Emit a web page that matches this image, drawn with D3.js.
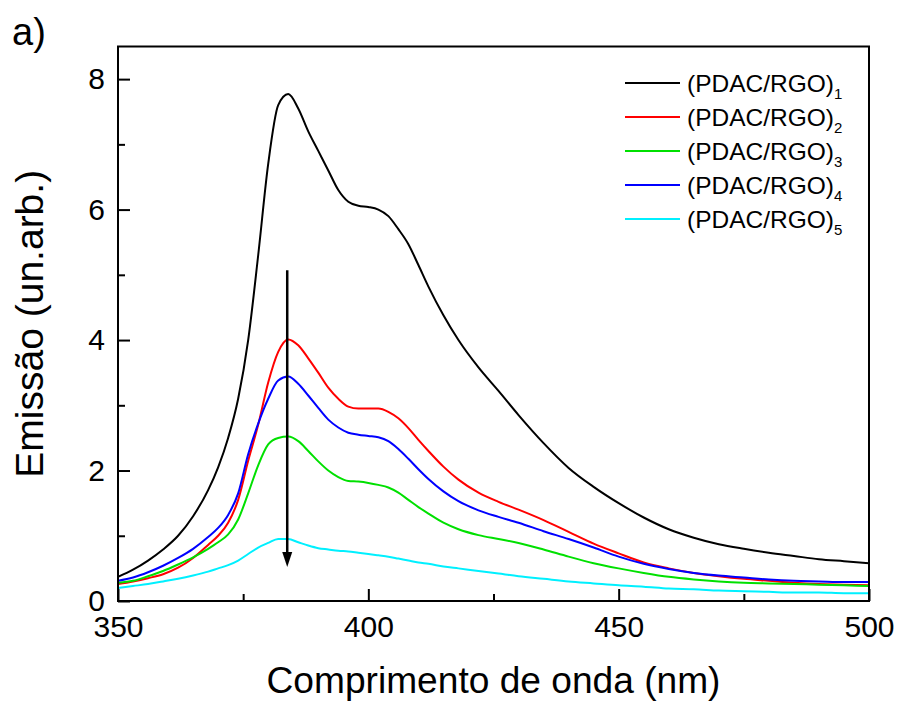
<!DOCTYPE html>
<html lang="pt">
<head>
    <meta charset="UTF-8">
    <title>Emissão (PDAC/RGO)n</title>
    <script src="https://cdnjs.cloudflare.com/ajax/libs/d3/7.8.5/d3.min.js"></script>
    <style>
        body {
            margin: 0;
            background: #fff;
        }
        svg text {
            font-family: "Liberation Sans", Arial, sans-serif;
            fill: #000;
        }
        .domain {
            display: none;
        }
    </style>
</head>
<body>
    <div id="chart"></div>

    <script>
        // comprimento de onda (nm)
        const wavelength = [350, 353, 356, 359, 362, 365, 368, 370, 372, 374, 376, 378, 380, 382, 384, 386,
            388, 390, 392, 394, 396, 398, 400, 402, 404, 406, 408, 410, 412, 415, 418, 422, 426, 430, 435,
            440, 445, 450, 455, 460, 465, 470, 475, 480, 485, 490, 495, 500];

        const layer1 = [0.37, 0.48, 0.62, 0.79, 1.0, 1.3, 1.7, 2.05, 2.5, 3.1, 4.0, 5.3, 6.7, 7.6, 7.77, 7.55,
            7.2, 6.9, 6.6, 6.3, 6.12, 6.06, 6.04, 6.0, 5.9, 5.7, 5.47, 5.15, 4.82, 4.38, 4.0, 3.58, 3.22, 2.85, 2.42,
            2.04, 1.75, 1.5, 1.28, 1.1, 0.97, 0.87, 0.8, 0.74, 0.69, 0.64, 0.61, 0.58];
        const layer2 = [0.26, 0.3, 0.35, 0.41, 0.51, 0.66, 0.86, 1.0, 1.2, 1.55, 2.15, 2.7, 3.35, 3.82, 4.01, 3.92,
            3.72, 3.5, 3.27, 3.1, 2.98, 2.95, 2.95, 2.95, 2.9, 2.8, 2.65, 2.47, 2.3, 2.06, 1.86, 1.66, 1.52, 1.4, 1.24,
            1.06, 0.88, 0.73, 0.59, 0.5, 0.43, 0.38, 0.34, 0.31, 0.28, 0.26, 0.25, 0.24];
        const layer3 = [0.28, 0.31, 0.38, 0.46, 0.56, 0.67, 0.8, 0.9, 1.02, 1.25, 1.65, 2.08, 2.4, 2.5, 2.52, 2.45,
            2.3, 2.14, 2.0, 1.9, 1.84, 1.83, 1.81, 1.78, 1.74, 1.66, 1.55, 1.44, 1.34, 1.2, 1.1, 1.01, 0.95, 0.89, 0.79,
            0.68, 0.58, 0.5, 0.43, 0.37, 0.33, 0.3, 0.28, 0.27, 0.26, 0.25, 0.24, 0.23];
        const layer4 = [0.31, 0.36, 0.44, 0.54, 0.66, 0.8, 0.98, 1.12, 1.32, 1.65, 2.25, 2.72, 3.1, 3.38, 3.44, 3.33,
            3.15, 2.96, 2.78, 2.66, 2.58, 2.55, 2.53, 2.51, 2.45, 2.33, 2.18, 2.02, 1.87, 1.68, 1.53, 1.39, 1.29, 1.2, 1.07,
            0.95, 0.82, 0.68, 0.57, 0.49, 0.43, 0.39, 0.36, 0.33, 0.31, 0.3, 0.29, 0.29];
        const layer5 = [0.2, 0.23, 0.26, 0.3, 0.34, 0.39, 0.45, 0.5, 0.55, 0.62, 0.72, 0.82, 0.89, 0.95, 0.95, 0.9,
            0.85, 0.81, 0.79, 0.77, 0.76, 0.74, 0.72, 0.7, 0.68, 0.65, 0.62, 0.59, 0.57, 0.53, 0.5, 0.46, 0.42, 0.38, 0.34,
            0.3, 0.27, 0.24, 0.22, 0.19, 0.18, 0.16, 0.15, 0.14, 0.13, 0.13, 0.12, 0.12];

        const seriesNames = ["1", "2", "3", "4", "5"];
        const seriesColors = ["#000000", "#ff0000", "#00e000", "#0000ff", "#00f0ff"];

        const xTicks = [350, 400, 450, 500];
        const xMinorTicks = [375, 425, 475];
        const yTicks = [0, 2, 4, 6, 8];
        const yMinorTicks = [1, 3, 5, 7];

        // seta: comprimento de onda, de / até
        const arrowX = 383.8;
        const arrowFrom = 5.07;
        const arrowTo = 0.52;

        const allSeries = [layer1, layer2, layer3, layer4, layer5];

        const margin = { top: 46.5, right: 32, bottom: 103, left: 118 };
        const W = 901, H = 704;
        const width = W - margin.left - margin.right;
        const height = H - margin.top - margin.bottom;

        const svg = d3.select("#chart")
            .append("svg")
            .attr("width", W)
            .attr("height", H);

        const g = svg.append("g")
            .attr("transform", `translate(${margin.left},${margin.top})`);

        const x = d3.scaleLinear().domain([350, 500]).range([0, width]);
        const y = d3.scaleLinear().domain([0, 8.5]).range([height, 0]);

        // eixos (marcas para dentro)
        const xAxis = g.append("g")
            .attr("transform", `translate(0,${height})`)
            .call(d3.axisBottom(x).tickValues(xTicks).tickSize(-12).tickPadding(15).tickFormat(d3.format("d")));
        xAxis.selectAll("text").style("font-size", "30px");
        xAxis.selectAll("line").attr("stroke-width", 2);

        const xMinor = g.append("g")
            .attr("transform", `translate(0,${height})`)
            .call(d3.axisBottom(x).tickValues(xMinorTicks).tickSize(-7).tickFormat(""));
        xMinor.selectAll("line").attr("stroke-width", 2);

        const yAxis = g.append("g")
            .call(d3.axisLeft(y).tickValues(yTicks).tickSize(-12).tickPadding(13).tickFormat(d3.format("d")));
        yAxis.selectAll("text").style("font-size", "30px");
        yAxis.selectAll("line").attr("stroke-width", 2);

        const yMinor = g.append("g")
            .call(d3.axisLeft(y).tickValues(yMinorTicks).tickSize(-7).tickFormat(""));
        yMinor.selectAll("line").attr("stroke-width", 2);

        // curvas
        const line = d3.line()
            .x((d, i) => x(wavelength[i]))
            .y(d => y(d))
            .curve(d3.curveMonotoneX);

        g.selectAll(".curve")
            .data(allSeries)
            .enter()
            .append("path")
            .attr("class", "curve")
            .attr("fill", "none")
            .attr("stroke", (d, i) => seriesColors[i])
            .attr("stroke-width", 2)
            .attr("stroke-linejoin", "round")
            .attr("d", line);

        // moldura
        g.append("rect")
            .attr("x", 0)
            .attr("y", 0)
            .attr("width", width)
            .attr("height", height)
            .attr("fill", "none")
            .attr("stroke", "#000")
            .attr("stroke-width", 2);

        // seta
        g.append("line")
            .attr("x1", x(arrowX))
            .attr("x2", x(arrowX))
            .attr("y1", y(arrowFrom))
            .attr("y2", y(arrowTo) - 12)
            .attr("stroke", "#000")
            .attr("stroke-width", 2.5);
        g.append("path")
            .attr("d", `M${x(arrowX) - 5},${y(arrowTo) - 15} L${x(arrowX) + 5},${y(arrowTo) - 15} L${x(arrowX)},${y(arrowTo)} Z`)
            .attr("fill", "#000");

        // legenda
        const legend = g.append("g")
            .attr("transform", `translate(${625 - margin.left},${83 - margin.top})`);

        seriesNames.forEach((n, i) => {
            const row = legend.append("g").attr("transform", `translate(0,${i * 34})`);
            row.append("line")
                .attr("x1", 0)
                .attr("x2", 55)
                .attr("stroke", seriesColors[i])
                .attr("stroke-width", 2);
            const t = row.append("text")
                .attr("x", 62)
                .attr("y", 9)
                .style("font-size", "24.5px")
                .text("(PDAC/RGO)");
            t.append("tspan")
                .attr("dy", 7)
                .style("font-size", "15px")
                .text(n);
        });

        // títulos
        svg.append("text")
            .attr("x", margin.left + width / 2)
            .attr("y", 693)
            .attr("text-anchor", "middle")
            .attr("textLength", 454)
            .attr("lengthAdjust", "spacingAndGlyphs")
            .style("font-size", "36px")
            .text("Comprimento de onda (nm)");

        svg.append("text")
            .attr("transform", `translate(43,${margin.top + height / 2}) rotate(-90)`)
            .attr("text-anchor", "middle")
            .style("font-size", "39px")
            .text("Emissão (un.arb.)");

        svg.append("text")
            .attr("x", 12)
            .attr("y", 45)
            .style("font-size", "38px")
            .text("a)");
    </script>
</body>
</html>
